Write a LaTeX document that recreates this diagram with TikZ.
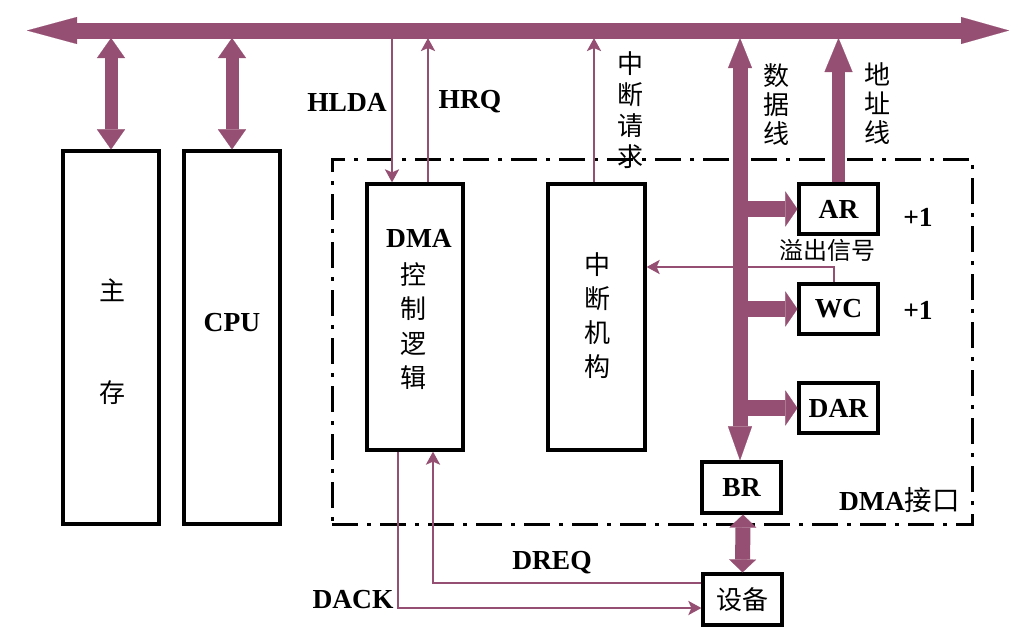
\documentclass[tikz,border=0pt]{standalone}
\usepackage{fontspec}
\setmainfont{Liberation Serif}
\newfontfamily\cjk{Noto Sans CJK SC}
\usetikzlibrary{arrows.meta}
\definecolor{buscol}{HTML}{954F72}
\begin{document}
\begin{tikzpicture}[x=1pt,y=-1pt,
  box/.style={draw, line width=3.2pt, inner sep=0pt},
  lbl/.style={font=\fontsize{27.5}{30}\selectfont\bfseries, inner sep=0pt},
  zh/.style={font=\fontsize{26}{30}\selectfont\cjk, align=center, inner sep=0pt},
  thin/.style={draw=buscol, line width=2.7pt},
  sarrow/.style={-{Stealth[length=13pt,width=14pt,inset=3pt]}},
  fat/.style={draw=buscol, line width=#1},
]
\useasboundingbox (0,0) rectangle (1011,643);

% bus
\coordinate (busL) at (27,30.5);
\coordinate (busR) at (1009,30.5);
\coordinate (busB) at (0,38);
\draw[fat=16pt, {Triangle[length=50pt,width=27pt,line width=0.1pt]}-{Triangle[length=48pt,width=27pt,line width=0.1pt]}] (busL) -- (busR);

% boxes
\node[box, minimum width=96pt, minimum height=373pt] (mem) at (111,337.5) {};
\node[box, minimum width=96pt, minimum height=373pt] (cpu) at (232,337.5) {};
\node[draw, line width=3pt, dash pattern=on 26pt off 9pt on 4pt off 9pt, inner sep=0pt, minimum width=640pt, minimum height=365pt] (iface) at (652,341.5) {};
\node[box, minimum width=96pt, minimum height=266pt] (dmac) at (415,317) {};
\node[box, minimum width=97pt, minimum height=266pt] (intm) at (596.5,317) {};
\node[box, minimum width=79pt, minimum height=50pt, lbl] (AR) at (838.5,209) {AR};
\node[box, minimum width=79pt, minimum height=50pt, lbl] (WC) at (838.5,309) {WC};
\node[box, minimum width=79pt, minimum height=50pt, lbl] (DAR) at (838.5,408) {DAR};
\node[box, minimum width=79pt, minimum height=51pt, lbl] (BR) at (741.5,487.5) {BR};
\node[box, minimum width=79pt, minimum height=51pt, zh] (dev) at (742.5,599.5) {设备};

% texts in boxes
\node[zh] (tzhu) at (112,290) {主};
\node[zh] (tcun) at (112,393) {存};
\node[lbl] (tcpu) at (232,323) {CPU};
\node[lbl] (tdma) at (419,238) {DMA};
\node[zh, font=\fontsize{26}{34.5}\selectfont\cjk] (tkz) at (413,326) {控\\制\\逻\\辑};
\node[zh, font=\fontsize{26}{34}\selectfont\cjk] (tzd) at (597,316) {中\\断\\机\\构};

% fat arrows memory / cpu
\draw[fat=13pt, {Triangle[length=20pt,width=28pt,line width=0.1pt]}-{Triangle[length=20pt,width=28pt,line width=0.1pt]}] (mem.north |- busB) -- (mem.north);
\draw[fat=13pt, {Triangle[length=20pt,width=28pt,line width=0.1pt]}-{Triangle[length=20pt,width=28pt,line width=0.1pt]}] (cpu.north |- busB) -- (cpu.north);

% data line
\draw[fat=15pt, {Triangle[length=30pt,width=24pt,line width=0.1pt]}-{Triangle[length=34pt,width=24pt,line width=0.1pt]}] ([xshift=-1.5pt]BR.north |- busB) -- ([xshift=-1.5pt]BR.north);
% branches
\draw[fat=16pt, -{Triangle[length=12pt,width=35pt,line width=0.1pt]}] ([xshift=-1.5pt]BR.north |- AR.west) -- (AR.west);
\draw[fat=16pt, -{Triangle[length=12pt,width=35pt,line width=0.1pt]}] ([xshift=-1.5pt]BR.north |- WC.west) -- (WC.west);
\draw[fat=16pt, -{Triangle[length=12pt,width=35pt,line width=0.1pt]}] ([xshift=-1.5pt]BR.north |- DAR.west) -- (DAR.west);
% address line
\draw[fat=12.5pt, -{Triangle[length=34pt,width=28pt,line width=0.1pt]}] (AR.north) -- (AR.north |- busB);
% BR - device
\draw[fat=15pt, {Triangle[length=13pt,width=27pt,line width=0.1pt]}-{Triangle[length=13pt,width=27pt,line width=0.1pt]}] ([xshift=1.5pt]BR.south) -- (dev.north);

% thin signal lines
\draw[thin, sarrow] ([xshift=-23pt]dmac.north |- busB) -- ([xshift=-23pt]dmac.north);
\draw[thin, sarrow] ([xshift=13pt]dmac.north) -- ([xshift=13pt]dmac.north |- busB);
\draw[thin, sarrow] ([xshift=-2.5pt]intm.north) -- ([xshift=-2.5pt]intm.north |- busB);
\coordinate (ovf) at (834,267);
\draw[thin, sarrow] ([xshift=-4.5pt]WC.north) -- (ovf) -- (intm.east |- ovf);
\draw[thin, sarrow] ([xshift=-17pt]dmac.south) |- ([yshift=-8.5pt]dev.west);
\draw[thin, sarrow] ([yshift=16.5pt]dev.west) -| ([xshift=18pt]dmac.south);

% labels
\node[lbl] (lhlda) at (347,102) {HLDA};
\node[lbl] (lhrq) at (470,102) {HRQ};
\node[zh, font=\fontsize{26}{31}\selectfont\cjk] (lzdqq) at (630,110) {中\\断\\请\\求};
\node[zh, font=\fontsize{26}{29}\selectfont\cjk] (lsjx) at (776,105) {数\\据\\线};
\node[zh, font=\fontsize{26}{29}\selectfont\cjk] (ldzx) at (877,104) {地\\址\\线};
\node[lbl] (lp1) at (918,217) {+1};
\node[lbl] (lp2) at (918,310) {+1};
\node[zh, font=\fontsize{24}{28}\selectfont\cjk] (lovf) at (827,250) {溢出信号};
\node[lbl, anchor=east] (liface) at (960,500) {DMA{\cjk\mdseries 接口}};
\node[lbl] (ldreq) at (552,563) {DREQ};
\node[lbl] (ldack) at (353,600) {DACK};
\end{tikzpicture}
\end{document}
